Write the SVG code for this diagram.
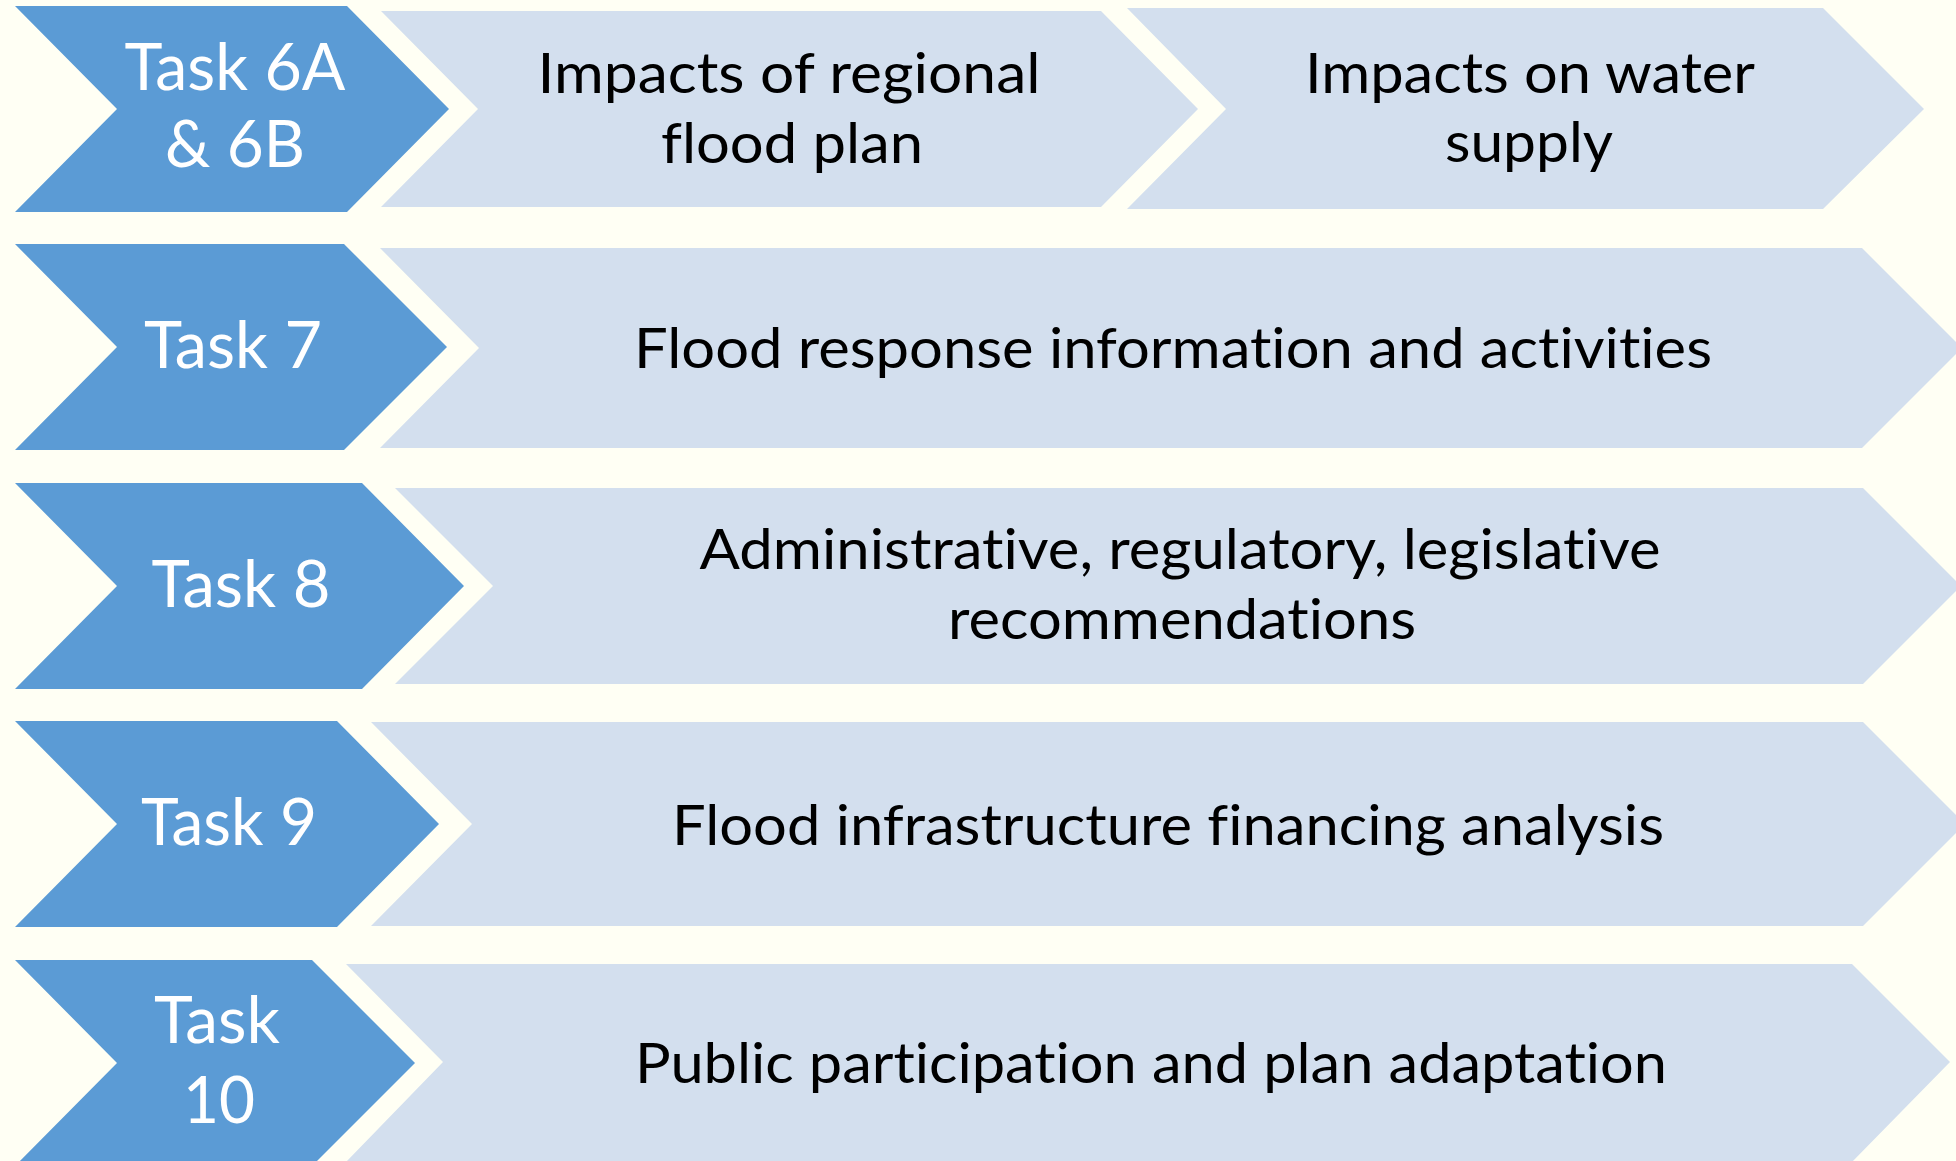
<svg xmlns="http://www.w3.org/2000/svg" width="1956" height="1161" viewBox="0 0 1956 1161">
<style>
.dark{fill:#5B9BD5}
.light{fill:#D3DFEE}
.tw{font-family:Lato,"Open Sans","Liberation Sans",sans-serif;font-size:66px;fill:#FFFFFF;text-anchor:middle;font-variant-ligatures:none;font-feature-settings:"liga" 0,"clig" 0}
.tb{font-family:Lato,"Open Sans","Liberation Sans",sans-serif;font-size:57px;fill:#000000;text-anchor:middle;font-variant-ligatures:none;font-feature-settings:"liga" 0,"clig" 0}
</style>
<rect x="0" y="0" width="1956" height="1161" fill="#FFFFF4"/>
<g id="connectors"></g>
<g id="task6">
<polygon class="dark" points="15,6 347,6 449,109 347,212 15,212 117,109"/>
<text class="tw" x="235" y="90" textLength="221" lengthAdjust="spacingAndGlyphs">Task 6A</text>
<text class="tw" x="235" y="167" textLength="140" lengthAdjust="spacingAndGlyphs">&amp; 6B</text>
</g>
<g id="impacts-flood-plan">
<polygon class="light" points="381,11 1101,11 1198,109 1101,207 381,207 478,109"/>
<text class="tb" x="789" y="93" textLength="503" lengthAdjust="spacingAndGlyphs">Impacts of regional</text>
<text class="tb" x="792" y="163" textLength="262" lengthAdjust="spacingAndGlyphs">flood plan</text>
</g>
<g id="impacts-water">
<polygon class="light" points="1127,8 1823,8 1924,109 1823,209 1127,209 1226,109"/>
<text class="tb" x="1530" y="93" textLength="450" lengthAdjust="spacingAndGlyphs">Impacts on water</text>
<text class="tb" x="1529" y="162" textLength="168" lengthAdjust="spacingAndGlyphs">supply</text>
</g>
<g id="task7">
<polygon class="dark" points="15,244 344,244 447,347 344,450 15,450 117,347"/>
<text class="tw" x="233" y="368" textLength="178" lengthAdjust="spacingAndGlyphs">Task 7</text>
</g>
<g id="flood-response">
<polygon class="light" points="380,248 1862,248 1962,348 1862,448 380,448 479,348"/>
<text class="tb" x="1173" y="368" textLength="1078" lengthAdjust="spacingAndGlyphs">Flood response information and activities</text>
</g>
<g id="task8">
<polygon class="dark" points="15,483 362,483 464,586 362,689 15,689 117,586"/>
<text class="tw" x="241" y="607" textLength="179" lengthAdjust="spacingAndGlyphs">Task 8</text>
</g>
<g id="administrative">
<polygon class="light" points="395,488 1863,488 1961,586 1863,684 395,684 493,586"/>
<text class="tb" x="1180" y="569" textLength="961" lengthAdjust="spacingAndGlyphs">Administrative, regulatory, legislative</text>
<text class="tb" x="1182" y="639" textLength="468" lengthAdjust="spacingAndGlyphs">recommendations</text>
</g>
<g id="task9">
<polygon class="dark" points="15,721 337,721 439,824 337,927 15,927 117,824"/>
<text class="tw" x="229" y="845" textLength="176" lengthAdjust="spacingAndGlyphs">Task 9</text>
</g>
<g id="financing">
<polygon class="light" points="371,722 1863,722 1965,824 1863,926 371,926 472,824"/>
<text class="tb" x="1168" y="845" textLength="992" lengthAdjust="spacingAndGlyphs">Flood infrastructure financing analysis</text>
</g>
<g id="task10">
<polygon class="dark" points="15,960 312,960 415,1063 312,1166 15,1166 117,1063"/>
<text class="tw" x="217" y="1043" textLength="126" lengthAdjust="spacingAndGlyphs">Task</text>
<text class="tw" x="219" y="1123" textLength="72" lengthAdjust="spacingAndGlyphs">10</text>
</g>
<g id="public-participation">
<polygon class="light" points="346,964 1852,964 1950,1062 1852,1162 346,1162 443,1062"/>
<text class="tb" x="1151" y="1083" textLength="1032" lengthAdjust="spacingAndGlyphs">Public participation and plan adaptation</text>
</g>
</svg>
